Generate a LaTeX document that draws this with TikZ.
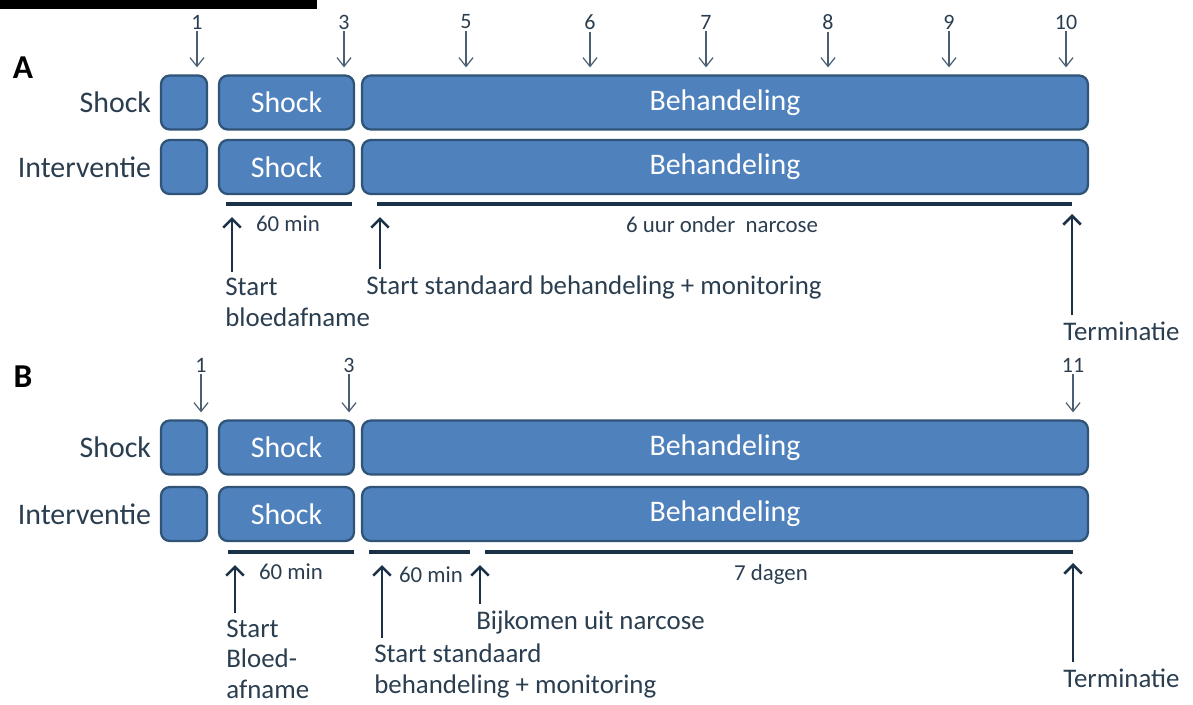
\documentclass[tikz,border=0pt]{standalone}
\usepackage{fontspec}
\setmainfont{Carlito}
\usetikzlibrary{arrows.meta,positioning}
\definecolor{BoxBlue}{HTML}{4F81BD}
\definecolor{BoxEdge}{HTML}{2F5478}
\definecolor{BarNavy}{HTML}{1B3148}
\definecolor{LabelInk}{HTML}{2B3E50}
\definecolor{TickInk}{HTML}{4A5F73}
\newcommand{\fsz}[2]{\fontsize{#1}{#2}\selectfont}

\begin{document}
\begin{tikzpicture}[
    x=0.02cm, y=-0.02cm,
    box/.style={
      draw=BoxEdge,
      line width=1.3pt,
      fill=BoxBlue,
      rounded corners=5pt,
      minimum height=1.08cm,
      inner sep=0pt,
      text=white,
      font=\fsz{17}{20}
    },
    rowlab/.style={font=\fsz{17}{20}, text=LabelInk, inner sep=0pt},
    panel/.style={font=\fsz{19}{22}\bfseries, text=black, inner sep=0pt},
    num/.style={font=\fsz{12.5}{14}, text=LabelInk, inner sep=1pt},
    tick/.style={
      -{Straight Barb[length=5pt,width=8pt]},
      line width=0.7pt,
      color=TickInk,
      shorten >=0.14cm
    },
    bar/.style={line width=2.3pt, color=BarNavy},
    dur/.style={font=\fsz{13}{15}, text=LabelInk, inner sep=0pt},
    note/.style={font=\fsz{15.3}{17.4}, text=LabelInk, align=left, inner sep=0pt},
    uparr/.style={
      -{Straight Barb[length=5pt,width=10pt]},
      line width=1.5pt,
      color=BarNavy,
      shorten <=0.12cm
    }
  ]
  \useasboundingbox (0,0) rectangle (1193,704);

  % cropped heading rule
  \fill[black] (0,0) rectangle (317,9);

  % ---------------- Panel A ----------------
  \node[panel] (labA) at (23,68) {A};

  \node[box, minimum width=0.92cm] (sA1) at (184,102.5) {};
  \node[box, minimum width=2.70cm] (sA2) at (286.5,102.5) {Shock};
  \node[box, minimum width=14.52cm] (sA3) at (725,102.5) {Behandeling};
  \node[box, minimum width=0.92cm] (iA1) at (184,167) {};
  \node[box, minimum width=2.70cm] (iA2) at (286.5,167) {Shock};
  \node[box, minimum width=14.52cm] (iA3) at (725,167) {Behandeling};

  \node[rowlab, left=0.17cm of sA1] (rsA) {Shock};
  \node[rowlab, left=0.17cm of iA1] (riA) {Interventie};

  % sampling moments
  \foreach \t/\x in {1/197, 3/344, 5/466, 6/590, 7/706, 8/828, 9/949, 10/1066} {
    \node[num] (nA\t) at (\x,22) {\t};
    \draw[tick] (nA\t.south) -- (nA\t.south |- sA3.north);
  }

  % durations
  \coordinate (bA1w) at (226,204);
  \coordinate (bA1e) at (352,204);
  \coordinate (bA2w) at (377,204);
  \coordinate (bA2e) at (1072,204);
  \draw[bar] (bA1w) -- (bA1e);
  \draw[bar] (bA2w) -- (bA2e);
  \node[dur] (dA1) at (288,224) {60 min};
  \node[dur] (dA2) at (722,225) {6 uur onder \ narcose};

  % events
  \node[note, anchor=west] (eA1) at (225,302.5) {Start\\bloedafname};
  \node[note, anchor=west] (eA2) at (366,287) {Start standaard behandeling + monitoring};
  \node[note, anchor=west] (eA3) at (1063,331) {Terminatie};
  \coordinate (pA1) at (232,217);
  \coordinate (pA2) at (380,217);
  \coordinate (pA3) at (1072,214);
  \draw[uparr] (eA1.north -| pA1) -- (pA1);
  \draw[uparr] (eA2.north -| pA2) -- (pA2);
  \draw[uparr] (eA3.north -| pA3) -- (pA3);

  % ---------------- Panel B ----------------
  \node[panel] (labB) at (23,377) {B};

  \node[box, minimum width=0.92cm] (sB1) at (184,447.5) {};
  \node[box, minimum width=2.70cm] (sB2) at (286.5,447.5) {Shock};
  \node[box, minimum width=14.52cm] (sB3) at (725,447.5) {Behandeling};
  \node[box, minimum width=0.92cm] (iB1) at (184,514) {};
  \node[box, minimum width=2.70cm] (iB2) at (286.5,514) {Shock};
  \node[box, minimum width=14.52cm] (iB3) at (725,514) {Behandeling};

  \node[rowlab, left=0.17cm of sB1] (rsB) {Shock};
  \node[rowlab, left=0.17cm of iB1] (riB) {Interventie};

  \foreach \t/\x in {1/201, 3/349, 11/1073} {
    \node[num] (nB\t) at (\x,365) {\t};
    \draw[tick] (nB\t.south) -- (nB\t.south |- sB3.north);
  }

  \coordinate (bB1w) at (228,552);
  \coordinate (bB1e) at (354,552);
  \coordinate (bB2w) at (369,552);
  \coordinate (bB2e) at (470,552);
  \coordinate (bB3w) at (485,552);
  \coordinate (bB3e) at (1073,552);
  \draw[bar] (bB1w) -- (bB1e);
  \draw[bar] (bB2w) -- (bB2e);
  \draw[bar] (bB3w) -- (bB3e);
  \node[dur] (dB1) at (291,572) {60 min};
  \node[dur] (dB2) at (431,575) {60 min};
  \node[dur] (dB3) at (771,575) {7 dagen};

  \node[note, anchor=west] (eB1) at (226,659) {Start\\Bloed-\\afname};
  \node[note, anchor=west] (eB2) at (374,671) {Start standaard\\behandeling + monitoring};
  \node[note, anchor=west] (eB3) at (476,622) {Bijkomen uit narcose};
  \node[note, anchor=west] (eB4) at (1063,678) {Terminatie};
  \coordinate (pB1) at (235,565);
  \coordinate (pB2) at (382,565);
  \coordinate (pB3) at (480,565);
  \coordinate (pB4) at (1073,563);
  \draw[uparr] (eB1.north -| pB1) -- (pB1);
  \draw[uparr] (eB2.north -| pB2) -- (pB2);
  \draw[uparr] (eB3.north -| pB3) -- (pB3);
  \draw[uparr] (eB4.north -| pB4) -- (pB4);
\end{tikzpicture}
\end{document}
